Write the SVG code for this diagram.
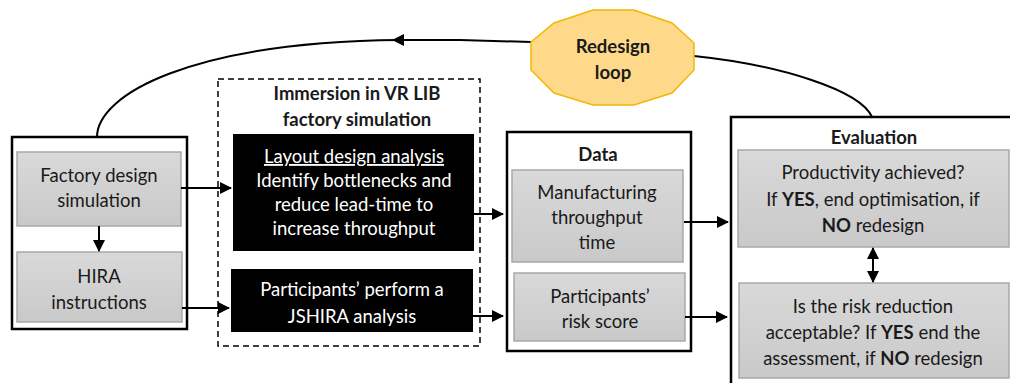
<svg xmlns="http://www.w3.org/2000/svg" width="1010" height="383" viewBox="0 0 1010 383">
  <defs>
    <linearGradient id="greyFill" x1="0" y1="0" x2="0" y2="1">
      <stop offset="0" stop-color="#d9d9d9"/>
      <stop offset="1" stop-color="#c9c9c9"/>
    </linearGradient>
    <marker id="head" viewBox="0 0 12 12" refX="11" refY="6" markerWidth="12" markerHeight="12" markerUnits="userSpaceOnUse" orient="auto-start-reverse">
      <path d="M0,0 L12,6 L0,12 Z" fill="#000"/>
    </marker>
    <style>
      text { font-family: Lato, "Liberation Sans", sans-serif; font-size: 18.5px; fill: #1a1a1a; text-anchor: middle; }
      .b { font-weight: bold; }
      .w { fill: #ffffff; }
      .frame { fill: #ffffff; stroke: #000; stroke-width: 2.5; }
      .grey { fill: url(#greyFill); stroke: #a8a8a8; stroke-width: 1.5; }
      .dark { fill: #000; }
      .dash { fill: none; stroke: #000; stroke-width: 1.5; stroke-dasharray: 6 4; }
      .link { fill: none; stroke: #000; stroke-width: 2; }
      .arrow { marker-end: url(#head); }
      .both { marker-start: url(#head); marker-end: url(#head); }
    </style>
  </defs>

  <!-- left input block -->
  <g id="inputs">
    <rect class="frame" x="12" y="137" width="175" height="192"/>
  </g>
  <g id="factory-design">
    <rect class="grey" x="17" y="152" width="164" height="74"/>
    <text x="99" y="182">Factory design</text>
    <text x="99" y="207">simulation</text>
  </g>
  <g id="hira">
    <rect class="grey" x="17" y="252" width="165" height="70"/>
    <text x="99" y="283">HIRA</text>
    <text x="99" y="309">instructions</text>
  </g>

  <!-- VR immersion block -->
  <g id="immersion">
    <rect class="dash" x="218" y="79" width="262" height="267"/>
    <text class="b" x="357" y="100">Immersion in VR LIB</text>
    <text class="b" x="357" y="126">factory simulation</text>
  </g>
  <g id="layout-analysis">
    <rect class="dark" x="233" y="134" width="241" height="117"/>
    <text class="w" x="354" y="163" text-decoration="underline">Layout design analysis</text>
    <text class="w" x="354" y="187">Identify bottlenecks and</text>
    <text class="w" x="354" y="211">reduce lead-time to</text>
    <text class="w" x="354" y="235">increase throughput</text>
  </g>
  <g id="jshira">
    <rect class="dark" x="231" y="269" width="242" height="63"/>
    <text class="w" x="352" y="296">Participants’ perform a</text>
    <text class="w" x="352" y="323">JSHIRA analysis</text>
  </g>

  <!-- data block -->
  <g id="data">
    <rect class="frame" x="507" y="132" width="184" height="219"/>
    <text class="b" x="598" y="161">Data</text>
  </g>
  <g id="throughput">
    <rect class="grey" x="512" y="170" width="171" height="92"/>
    <text x="597" y="199">Manufacturing</text>
    <text x="597" y="224">throughput</text>
    <text x="597" y="249">time</text>
  </g>
  <g id="risk-score">
    <rect class="grey" x="514" y="273" width="171" height="68"/>
    <text x="600" y="303">Participants’</text>
    <text x="600" y="328">risk score</text>
  </g>

  <!-- evaluation block -->
  <g id="evaluation">
    <rect class="frame" x="731" y="117" width="290" height="280"/>
    <text class="b" x="874" y="144">Evaluation</text>
  </g>
  <g id="productivity">
    <rect class="grey" x="738" y="150" width="271" height="97"/>
    <text x="873" y="179">Productivity achieved?</text>
    <text x="873" y="206">If <tspan class="b">YES</tspan>, end optimisation, if</text>
    <text x="873" y="232"><tspan class="b">NO</tspan> redesign</text>
  </g>
  <g id="risk-reduction">
    <rect class="grey" x="739" y="283" width="270" height="95"/>
    <text x="873" y="313">Is the risk reduction</text>
    <text x="873" y="339">acceptable? If <tspan class="b">YES</tspan> end the</text>
    <text x="873" y="365">assessment, if <tspan class="b">NO</tspan> redesign</text>
  </g>

  <!-- arrows and the redesign loop curve -->
  <g id="connectors">
    <path class="link" d="M694,56 C780,65 860,90 872,117"/>
    <path class="link arrow" d="M531,42 L460,40 L393,40"/>
    <path class="link" d="M400,40 C190,42 97,95 97,137"/>
    <path class="link arrow" d="M99,226 L99,251"/>
    <path class="link arrow" d="M181,188 L231,188"/>
    <path class="link arrow" d="M182,308 L229,308"/>
    <path class="link arrow" d="M474,214 L503,214"/>
    <path class="link arrow" d="M473,316 L503,316"/>
    <path class="link arrow" d="M684,222 L728,222"/>
    <path class="link arrow" d="M685,317 L727,317"/>
    <path class="link both" d="M873,248 L873,282"/>
  </g>

  <!-- redesign loop badge -->
  <g id="redesign-loop">
    <polygon points="593,10 634,10 672,23 694,43 694,70 672,93 634,105 593,105 554,93 531,70 531,42 554,23" fill="#ffd98a" stroke="#f2b705" stroke-width="1.5"/>
    <text class="b" x="613" y="53">Redesign</text>
    <text class="b" x="613" y="79">loop</text>
  </g>
</svg>
